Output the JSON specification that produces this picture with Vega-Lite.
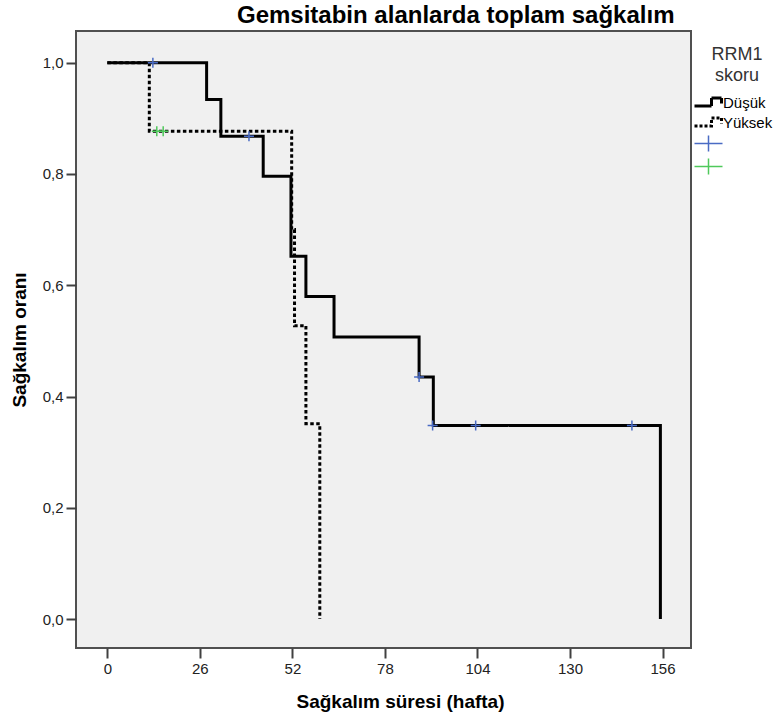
{
  "$schema": "https://vega.github.io/schema/vega-lite/v6.json",
  "width": 615,
  "height": 617,
  "autosize": {"type": "none"},
  "padding": {"left": 76, "top": 31, "right": 90, "bottom": 74},
  "background": "white",
  "config": {
    "view": {"fill": "#f0f0f0", "stroke": "#505050", "strokeWidth": 2},
    "font": "Liberation Sans"
  },
  "title": {
    "text": "Gemsitabin alanlarda toplam sağkalım",
    "anchor": "start",
    "frame": "group",
    "dx": 161,
    "dy": 23,
    "fontSize": 24,
    "fontWeight": "bold",
    "color": "black",
    "baseline": "alphabetic",
    "offset": 7,
    "font": "Liberation Sans"
  },
  "datasets": {
    "lines": [
      {"t": 0, "s": 1.0, "grp": "Düşük"},
      {"t": 27.9, "s": 0.934, "grp": "Düşük"},
      {"t": 31.9, "s": 0.868, "grp": "Düşük"},
      {"t": 43.8, "s": 0.796, "grp": "Düşük"},
      {"t": 51.6, "s": 0.652, "grp": "Düşük"},
      {"t": 55.8, "s": 0.58, "grp": "Düşük"},
      {"t": 63.7, "s": 0.507, "grp": "Düşük"},
      {"t": 87.6, "s": 0.435, "grp": "Düşük"},
      {"t": 91.6, "s": 0.348, "grp": "Düşük"},
      {"t": 155.4, "s": 0.0, "grp": "Düşük"},
      {"t": 0, "s": 1.0, "grp": "Yüksek"},
      {"t": 11.8, "s": 0.877, "grp": "Yüksek"},
      {"t": 51.8, "s": 0.70, "grp": "Yüksek"},
      {"t": 52.6, "s": 0.527, "grp": "Yüksek"},
      {"t": 55.8, "s": 0.351, "grp": "Yüksek"},
      {"t": 59.7, "s": 0.0, "grp": "Yüksek"}
    ],
    "censors": [
      {"t": 12.8, "s": 1.0, "grp": "Düşük-c"},
      {"t": 39.8, "s": 0.868, "grp": "Düşük-c"},
      {"t": 87.6, "s": 0.435, "grp": "Düşük-c"},
      {"t": 91.4, "s": 0.348, "grp": "Düşük-c"},
      {"t": 103.5, "s": 0.348, "grp": "Düşük-c"},
      {"t": 147.4, "s": 0.348, "grp": "Düşük-c"},
      {"t": 13.9, "s": 0.877, "grp": "Yüksek-c"},
      {"t": 15.7, "s": 0.877, "grp": "Yüksek-c"}
    ]
  },
  "layer": [
    {
      "data": {"name": "lines"},
      "mark": {"type": "line", "interpolate": "step-after", "strokeWidth": 3, "strokeCap": "butt", "strokeJoin": "miter"},
      "encoding": {
        "x": {
          "field": "t", "type": "quantitative",
          "scale": {"domain": [-8.8, 164], "nice": false, "zero": false},
          "axis": {
            "values": [0, 26, 52, 78, 104, 130, 156],
            "title": "Sağkalım süresi (hafta)",
            "grid": false, "domain": false,
            "tickSize": 10, "tickWidth": 2, "tickColor": "#404040",
            "labelFontSize": 15, "labelColor": "#222222", "labelPadding": 3,
            "titleFontSize": 19, "titleFontWeight": "bold", "titleColor": "black",
            "titlePadding": 16, "titleX": 324
          }
        },
        "y": {
          "field": "s", "type": "quantitative",
          "scale": {"domain": [-0.052, 1.057], "nice": false, "zero": false},
          "axis": {
            "values": [0, 0.2, 0.4, 0.6, 0.8, 1.0],
            "labelExpr": "replace(format(datum.value, '.1f'), '.', ',')",
            "title": "Sağkalım oranı",
            "grid": false, "domain": false,
            "tickSize": 10, "tickWidth": 2, "tickColor": "#404040",
            "labelFontSize": 15, "labelColor": "#222222", "labelPadding": 3,
            "titleFontSize": 19, "titleFontWeight": "bold", "titleColor": "black",
            "titlePadding": 13
          }
        },
        "color": {
          "field": "grp", "type": "nominal",
          "scale": {"domain": ["Düşük", "Yüksek", "Düşük-c", "Yüksek-c"], "range": ["#000000", "#000000", "#4a6bc4", "#4fc95b"]},
          "legend": {
            "title": ["RRM1", "skoru"],
            "orient": "none",
            "legendX": 625,
            "legendY": 15,
            "padding": 0,
            "titleFont": "Liberation Sans",
            "titleFontSize": 18,
            "titleFontWeight": "normal",
            "titleColor": "#333333",
            "titleLineHeight": 21,
            "titleAnchor": "middle",
            "titleAlign": "center",
            "titlePadding": 10,
            "labelFont": "Liberation Sans",
            "labelFontSize": 15,
            "labelColor": "black",
            "labelOffset": 7,
            "symbolSize": 400,
            "rowPadding": 0,
            "labelExpr": "indexof(datum.label, '-c') >= 0 ? '' : datum.label",
            "encode": {
              "symbols": {
                "update": {
                  "shape": {"signal": "(datum.value == 'Düşük' || datum.value == 'Yüksek') ? 'M-1.4,0.35L0.3,0.35L0.3,-0.45L1.3,-0.45L1.3,0.1' : 'M-1.4,0L1.4,0M0,-0.8L0,0.8'"},
                  "strokeDash": {"signal": "datum.value == 'Yüksek' ? [3, 2] : [1, 0]"},
                  "strokeWidth": {"signal": "(datum.value == 'Düşük' || datum.value == 'Yüksek') ? 3 : 1.5"},
                  "stroke": {"scale": "color", "field": "value"},
                  "fill": {"value": "transparent"},
                  "opacity": {"value": 1}
                }
              }
            }
          }
        },
        "strokeDash": {
          "field": "grp", "type": "nominal",
          "scale": {"domain": ["Düşük", "Yüksek"], "range": [[1, 0], [3.5, 2.5]]},
          "legend": null
        }
      }
    },
    {
      "data": {"name": "censors"},
      "mark": {"type": "point", "shape": "M-1,0L1,0M0,-1L0,1", "size": 100, "strokeWidth": 1.5, "filled": false, "opacity": 1},
      "encoding": {
        "x": {"field": "t", "type": "quantitative"},
        "y": {"field": "s", "type": "quantitative"},
        "color": {"field": "grp", "type": "nominal"}
      }
    }
  ]
}
